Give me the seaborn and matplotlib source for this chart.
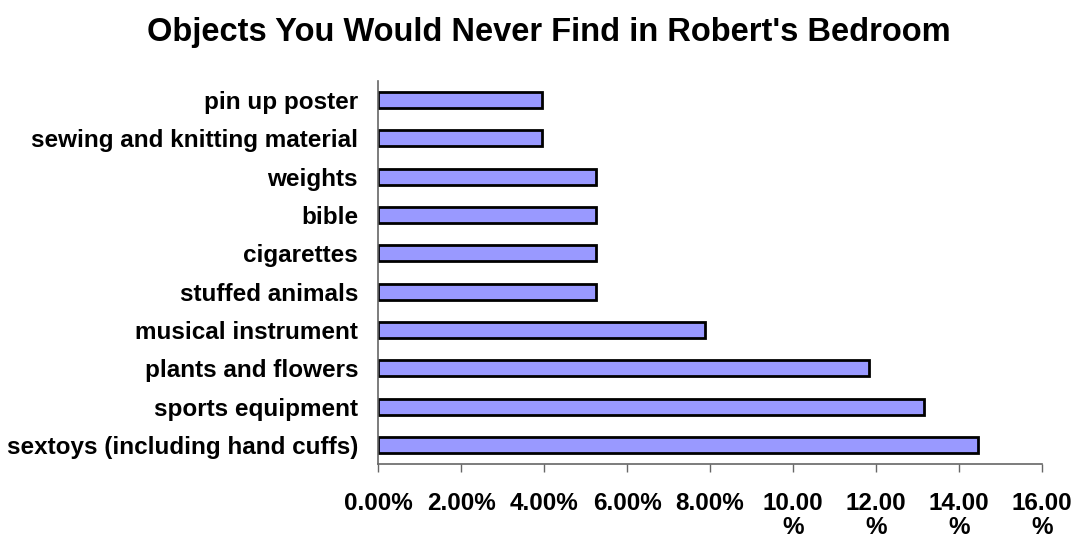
import matplotlib
matplotlib.use("Agg")
import matplotlib.pyplot as plt
import seaborn as sns
import pandas as pd
from matplotlib.ticker import FuncFormatter

objects = [
    "pin up poster",
    "sewing and knitting material",
    "weights",
    "bible",
    "cigarettes",
    "stuffed animals",
    "musical instrument",
    "plants and flowers",
    "sports equipment",
    "sextoys (including hand cuffs)",
]
share = [3.95, 3.95, 5.26, 5.26, 5.26, 5.26, 7.89, 11.84, 13.16, 14.47]

df = pd.DataFrame({"object": objects, "share": share})

sns.set_style("white")
plt.rcParams["font.family"] = ["Liberation Sans", "DejaVu Sans"]
plt.rcParams["font.weight"] = "bold"
plt.rcParams["text.color"] = "black"
plt.rcParams["xtick.color"] = "black"
plt.rcParams["ytick.color"] = "black"

fig = plt.figure(figsize=(10.81, 5.45), dpi=100)
ax = fig.add_axes([0.3497, 0.1486, 0.6142, 0.7028])

sns.barplot(data=df, x="share", y="object", orient="h", color="#9999ff",
            edgecolor="black", linewidth=2, width=0.42, saturation=1, ax=ax)

ax.set_xlim(0, 16)
ax.set_xticks(range(0, 17, 2))


def fmt(v, pos):
    if v >= 10:
        return f"{v:.2f}\n%"
    return f"{v:.2f}%"


ax.xaxis.set_major_formatter(FuncFormatter(fmt))
ax.tick_params(axis="x", direction="out", length=6, width=1, color="#666666",
               labelcolor="black", labelsize=17.5, pad=14, bottom=True)
ax.tick_params(axis="y", length=0, labelcolor="black", labelsize=17.5, pad=14.4)
for lab in ax.get_xticklabels() + ax.get_yticklabels():
    lab.set_fontweight("bold")
    lab.set_linespacing(1.08)

for side in ["top", "right"]:
    ax.spines[side].set_visible(False)
for side in ["left", "bottom"]:
    ax.spines[side].set_color("#666666")
    ax.spines[side].set_linewidth(1.2)

ax.set_xlabel("")
ax.set_ylabel("")
fig.text(0.508, 0.94, "Objects You Would Never Find in Robert's Bedroom",
         fontsize=23.5, fontweight="bold", ha="center", va="center", color="black")

plt.savefig("out.png", dpi=100)
